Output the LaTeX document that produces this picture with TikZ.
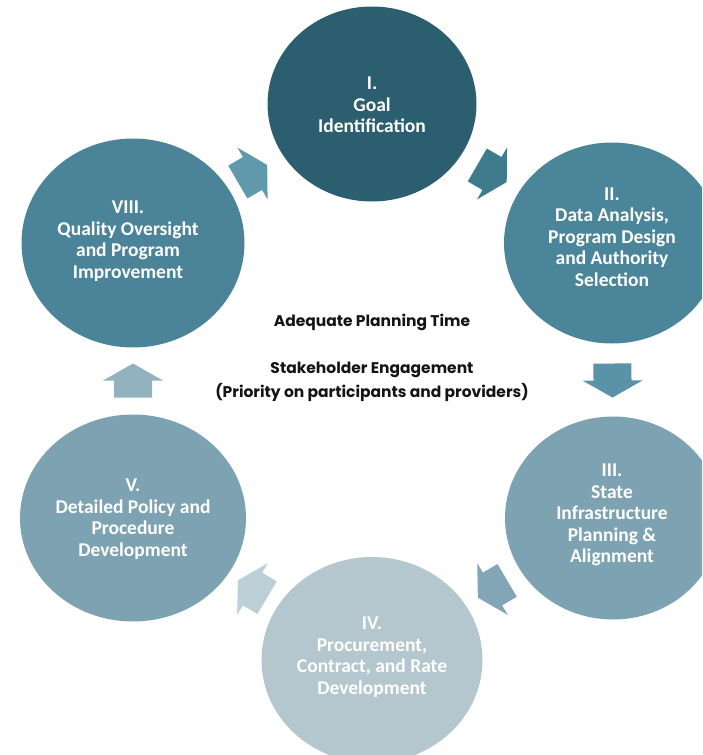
\documentclass[tikz,border=0pt]{standalone}
\usepackage{fontspec}
\setmainfont{Carlito}
\newfontfamily\roundfont{Poppins}
\usetikzlibrary{shapes.geometric,calc}

% stage fills, darkest first
\definecolor{stageI}{HTML}{2B5E6E}
\definecolor{stageII}{HTML}{4A8599}
\definecolor{stageIII}{HTML}{7DA3B3}
\definecolor{stageIV}{HTML}{B4C6CE}
\definecolor{stageV}{HTML}{7DA2B2}
\definecolor{stageVIII}{HTML}{4B8498}
% arrow fills
\definecolor{flowA}{HTML}{6199AC}
\definecolor{flowB}{HTML}{3D7B8D}
\definecolor{flowC}{HTML}{5A92A7}
\definecolor{flowD}{HTML}{82A6B5}
\definecolor{flowE}{HTML}{BCCED6}
\definecolor{flowF}{HTML}{92B2C0}
\definecolor{notetext}{HTML}{141414}

% block arrow halfway between two stages, pointing from the first to the second
\newcommand\flowarrow[3]{%
  \path let \p1=($(#2)-(#1)$), \n1={atan2(\y1,\x1)} in \pgfextra{\xdef\flowangle{\n1}};
  \fill[#3, shift={($(#1)!0.5!(#2)$)}, rotate=\flowangle]
    (-17,-19) -- (0,-19) -- (0,-30) -- (17,0) -- (0,30) -- (0,19) -- (-17,19) -- cycle;
}

\begin{document}
\begin{tikzpicture}[x=1pt,y=-1pt,
  disc/.style={ellipse, draw=none, inner sep=0pt},
  stagetext/.style={text=white, align=center, inner sep=0pt,
    font=\bfseries\fontsize{19.5}{21.5}\selectfont},
  centretext/.style={align=center, inner sep=0pt, text=notetext,
    font=\roundfont\bfseries\fontsize{15.5}{24}\selectfont}]
\useasboundingbox (0,0) rectangle (702,755);
\clip (0,0) rectangle (702,755);

% stages
\node[disc, fill=stageI, minimum width=209pt, minimum height=195pt] (s1) at (372,104) {};
\node[disc, fill=stageII, minimum width=216pt, minimum height=201pt] (s2) at (612,243) {};
\node[disc, fill=stageIII, minimum width=216pt, minimum height=203pt] (s3) at (613,518) {};
\node[disc, fill=stageIV, minimum width=221pt, minimum height=206pt] (s4) at (372,660) {};
\node[disc, fill=stageV, minimum width=226pt, minimum height=207pt] (s5) at (133,518) {};
\node[disc, fill=stageVIII, minimum width=223pt, minimum height=209pt] (s8) at (133,243) {};

\node[stagetext] (l1) at (372,105) {I.\\Goal\\Identification};
\node[stagetext] (l2) at (612,237) {II.\\Data Analysis,\\Program Design\\and Authority\\Selection};
\node[stagetext] (l3) at (612,515) {III.\\State\\Infrastructure\\Planning \&\\Alignment};
\node[stagetext] (l4) at (372,657) {IV.\\Procurement,\\Contract, and Rate\\Development};
\node[stagetext] (l5) at (133,519) {V.\\Detailed Policy and\\Procedure\\Development};
\node[stagetext] (l8) at (128,241) {VIII.\\Quality Oversight\\and Program\\Improvement};

% cycle arrows
\flowarrow{s8}{s1}{flowA}
\flowarrow{s1}{s2}{flowB}
\flowarrow{s2}{s3}{flowC}
\flowarrow{s3}{s4}{flowD}
\flowarrow{s4}{s5}{flowE}
\flowarrow{s5}{s8}{flowF}

% centre notes
\node[centretext] (c1) at (372,322) {Adequate Planning Time};
\node[centretext] (c2) at (372,381.5) {Stakeholder Engagement\\(Priority on participants and providers)};
\end{tikzpicture}
\end{document}
